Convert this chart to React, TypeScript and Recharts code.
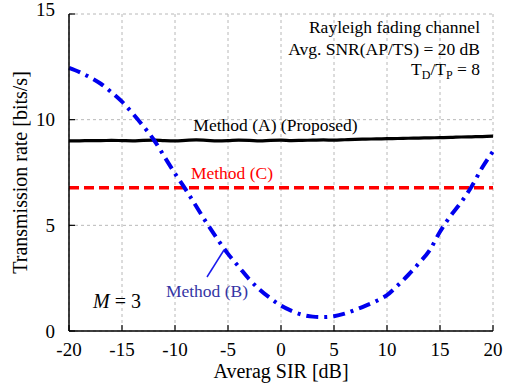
import React from 'react';
import {
  LineChart,
  Line,
  XAxis,
  YAxis,
  CartesianGrid,
} from 'recharts';

// Average SIR [dB], 1 dB steps
const sirValues = [
  -20, -19, -18, -17, -16, -15, -14, -13, -12, -11, -10, -9, -8, -7, -6, -5, -4, -3, -2, -1,
  0, 1, 2, 3, 4, 5, 6, 7, 8, 9, 10, 11, 12, 13, 14, 15, 16, 17, 18, 19, 20,
];

// Method (A) (Proposed)
const methodA = [
  9.0, 9.0, 9.01, 9.01, 9.02, 9.01, 9.0, 9.02, 9.03, 9.01, 9.0, 9.02, 9.04, 9.02, 9.0, 9.01,
  9.03, 9.02, 9.0, 9.02, 9.03, 9.01, 9.02, 9.03, 9.04, 9.03, 9.05, 9.07, 9.08, 9.09, 9.1, 9.11,
  9.12, 9.13, 9.14, 9.15, 9.16, 9.18, 9.19, 9.2, 9.22,
];

// Method (B)
const methodB = [
  12.45, 12.25, 12.0, 11.7, 11.3, 10.85, 10.3, 9.7, 9.05, 8.25, 7.45, 6.7, 5.9, 5.1, 4.35,
  3.65, 3.05, 2.45, 1.95, 1.55, 1.2, 0.95, 0.77, 0.68, 0.66, 0.7, 0.82, 1.0, 1.2, 1.42, 1.7,
  2.15, 2.65, 3.2, 3.8, 4.7, 5.45, 6.1, 6.85, 7.75, 8.5,
];

// Method (C)
const methodC = sirValues.map(() => 6.78);

const xTicks = [-20, -15, -10, -5, 0, 5, 10, 15, 20];
const yTicks = [0, 5, 10, 15];

const data = sirValues.map((sir, i) => ({
  sir,
  a: methodA[i],
  b: methodB[i],
  c: methodC[i],
}));

const serif = { fontFamily: 'Liberation Serif' };
const TICK_LEN = 6;
const BOTTOM_MARGIN = 25;
const LEFT_MARGIN = 14;

const BottomTick = (props: any) => {
  const { x, y, payload } = props;
  return (
    <g>
      <line x1={x} x2={x} y1={y - BOTTOM_MARGIN} y2={y - BOTTOM_MARGIN - TICK_LEN} stroke="#000" strokeWidth={1.2} />
      <text x={x} y={y} textAnchor="middle" style={serif} fontSize={19} fill="#000">
        {payload.value}
      </text>
    </g>
  );
};

const LeftTick = (props: any) => {
  const { x, y, payload } = props;
  const shift = payload.value === 15 ? -5 : 0;
  return (
    <g>
      <line x1={x + LEFT_MARGIN} x2={x + LEFT_MARGIN + TICK_LEN} y1={y} y2={y} stroke="#000" strokeWidth={1.2} />
      <text x={x} y={y + 6.5 + shift} textAnchor="end" style={serif} fontSize={19} fill="#000">
        {payload.value}
      </text>
    </g>
  );
};

const TopTick = (props: any) => {
  const { x, y } = props;
  return <line x1={x} x2={x} y1={y} y2={y + TICK_LEN} stroke="#000" strokeWidth={1.2} />;
};

const RightTick = (props: any) => {
  const { x, y } = props;
  return <line x1={x} x2={x - TICK_LEN} y1={y} y2={y} stroke="#000" strokeWidth={1.2} />;
};

export default function App() {
  return (
    <div style={{ position: 'absolute', left: 0, top: 0, width: 505, height: 385, background: '#fff' }}>
      <LineChart
        width={505}
        height={385}
        data={data}
        margin={{ top: 14, right: 12, left: 0, bottom: 0 }}
      >
        <CartesianGrid stroke="#b8b8b8" strokeDasharray="3 3" strokeWidth={1} />
        <XAxis
          dataKey="sir"
          type="number"
          domain={[-20, 20]}
          ticks={xTicks}
          height={54}
          tickSize={0}
          tickMargin={BOTTOM_MARGIN}
          tickLine={false}
          tick={BottomTick}
          axisLine={{ stroke: '#000', strokeWidth: 1.5 }}
          interval={0}
          label={(p: any) => {
            const vb = p.viewBox;
            return (
              <text
                x={vb.x + vb.width / 2}
                y={vb.y + 47}
                textAnchor="middle"
                style={serif}
                fontSize={20}
                fill="#000"
              >
                Averag SIR [dB]
              </text>
            );
          }}
        />
        <XAxis
          xAxisId="top"
          dataKey="sir"
          orientation="top"
          type="number"
          domain={[-20, 20]}
          ticks={xTicks}
          height={0}
          tickSize={0}
          tickMargin={0}
          tickLine={false}
          tick={TopTick}
          axisLine={{ stroke: '#000', strokeWidth: 1.5 }}
          interval={0}
        />
        <YAxis
          type="number"
          domain={[0, 15]}
          ticks={yTicks}
          width={69}
          tickSize={0}
          tickMargin={LEFT_MARGIN}
          tickLine={false}
          tick={LeftTick}
          axisLine={{ stroke: '#000', strokeWidth: 1.5 }}
          interval={0}
          label={(p: any) => {
            const vb = p.viewBox;
            const cx = 27;
            const cy = vb.y + vb.height / 2;
            return (
              <text
                x={cx}
                y={cy}
                transform={`rotate(-90, ${cx}, ${cy})`}
                textAnchor="middle"
                style={serif}
                fontSize={20}
                fill="#000"
              >
                Transmission rate [bits/s]
              </text>
            );
          }}
        />
        <YAxis
          yAxisId="right"
          orientation="right"
          type="number"
          domain={[0, 15]}
          ticks={yTicks}
          width={0}
          tickSize={0}
          tickMargin={0}
          tickLine={false}
          tick={RightTick}
          axisLine={{ stroke: '#000', strokeWidth: 1.5 }}
          interval={0}
        />
        <Line
          dataKey="c"
          type="linear"
          stroke="#ff0000"
          strokeWidth={3.5}
          strokeDasharray="10 5"
          dot={false}
          isAnimationActive={false}
        />
        <Line
          dataKey="a"
          type="monotone"
          stroke="#000"
          strokeWidth={3.2}
          dot={false}
          isAnimationActive={false}
        />
        <Line
          dataKey="b"
          type="monotone"
          stroke="#0000ee"
          strokeWidth={4}
          strokeDasharray="12 6 3 6"
          dot={false}
          isAnimationActive={false}
        />
      </LineChart>
      <svg
        width={505}
        height={385}
        style={{ position: 'absolute', left: 0, top: 0, pointerEvents: 'none' }}
      >
        <text x={480} y={33} textAnchor="end" style={serif} fontSize={17.5} fill="#000">
          Rayleigh fading channel
        </text>
        <text x={480} y={55} textAnchor="end" style={serif} fontSize={17.5} fill="#000">
          Avg. SNR(AP/TS) = 20 dB
        </text>
        <text x={480} y={75} textAnchor="end" style={serif} fontSize={17.5} fill="#000">
          T<tspan fontSize={12} dy={4}>D</tspan>
          <tspan dy={-4}>/T</tspan>
          <tspan fontSize={12} dy={4}>P</tspan>
          <tspan dy={-4}> = 8</tspan>
        </text>
        <text x={275.5} y={131} textAnchor="middle" style={serif} fontSize={17.5} fill="#000">
          Method (A) (Proposed)
        </text>
        <text x={232} y={179} textAnchor="middle" style={serif} fontSize={17.5} fill="#ff0000">
          Method (C)
        </text>
        <line x1={207} y1={277} x2={224} y2={250} stroke="#1a1aee" strokeWidth={1.5} />
        <text x={207} y={297} textAnchor="middle" style={serif} fontSize={17.5} fill="#3535a5">
          Method (B)
        </text>
        <text x={93} y={308} style={serif} fontSize={20} fill="#000">
          <tspan fontStyle="italic">M</tspan> = 3
        </text>
      </svg>
    </div>
  );
}
